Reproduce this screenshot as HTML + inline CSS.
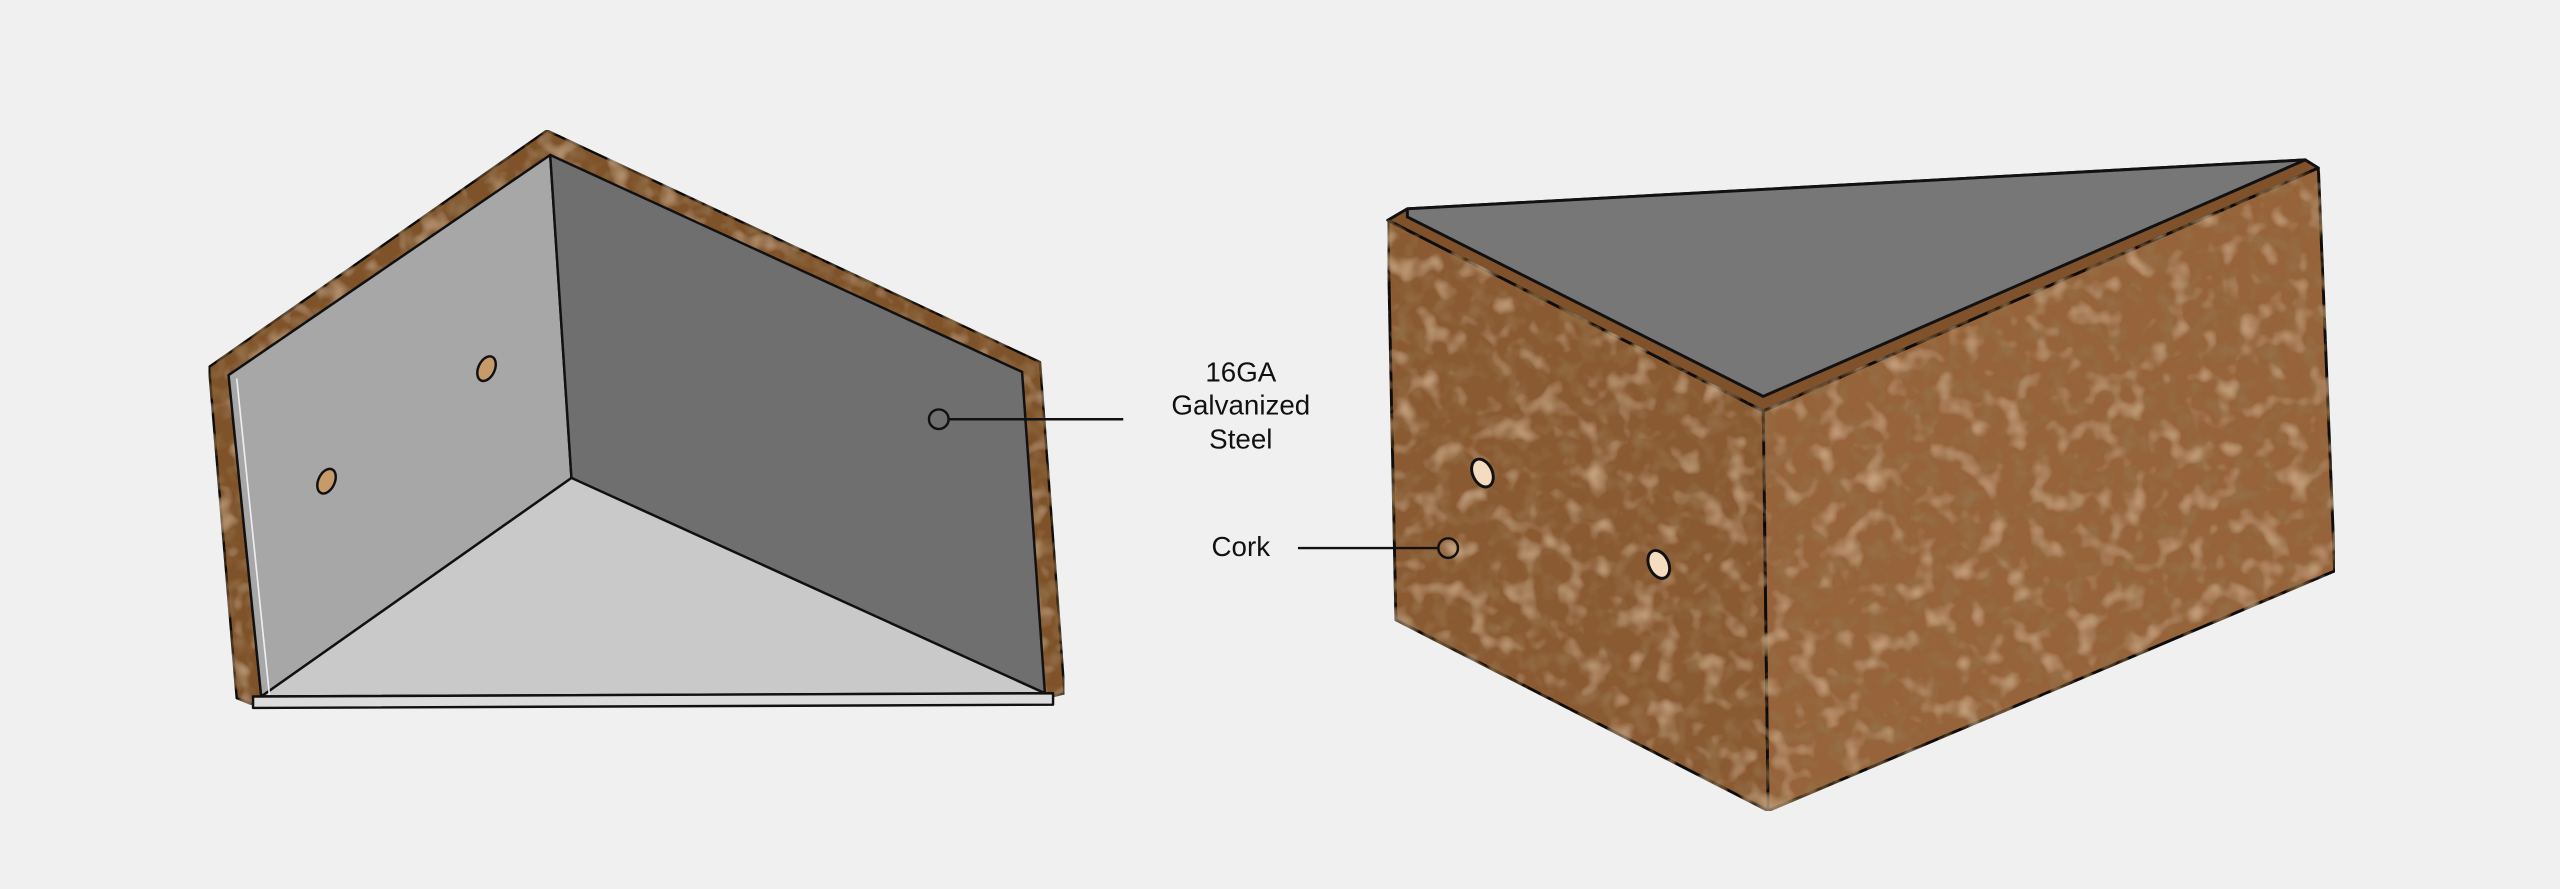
<!DOCTYPE html>
<html><head><meta charset="utf-8"><style>
html,body{margin:0;padding:0;background:#f0f0f0;}
svg{display:block}
</style></head><body>
<svg width="2560" height="889" viewBox="0 0 1568 545" preserveAspectRatio="none" xmlns="http://www.w3.org/2000/svg">
<defs>
<filter id="cork" x="0" y="0" width="100%" height="100%">
<feTurbulence type="fractalNoise" baseFrequency="0.09" numOctaves="2" seed="3" result="n"/>
<feColorMatrix in="n" type="matrix" values="0 0 0 0 0.3  0 0 0 0 0.17  0 0 0 0 0.07  0 0 0 2 -0.9" result="d"/>
<feComposite in="d" in2="SourceGraphic" operator="in" result="dd"/>
<feTurbulence type="fractalNoise" baseFrequency="0.07" numOctaves="2" seed="9" result="n2"/>
<feColorMatrix in="n2" type="matrix" values="0 0 0 0 0.76  0 0 0 0 0.53  0 0 0 0 0.32  0 0 0 1.6 -0.85" result="l"/>
<feComposite in="l" in2="SourceGraphic" operator="in" result="ll"/>
<feMerge><feMergeNode in="SourceGraphic"/><feMergeNode in="dd"/><feMergeNode in="ll"/></feMerge>
</filter>
</defs>
<rect width="1568" height="545" fill="#f0f0f0"/>
<!-- Left object -->
<g stroke="#111" stroke-width="1.5" stroke-linejoin="round">
<polygon points="128,225 335,80 637,222 652,425 640,428 626,228 337,95 140,230 160,427 155,432 145,428" fill="#7f522b" filter="url(#cork)"/>
<polygon points="140,230 337,95 350,293 160,427" fill="#a7a7a7"/>
<polygon points="337,95 626,228 640,425 350,293" fill="#6f6f6f"/>
<polygon points="350,293 160,427 640,425" fill="#c9c9c9"/>
<polygon points="155,427 645,425 645,432 155,434" fill="#dcdcdc"/>
<line x1="145" y1="232" x2="165" y2="426" stroke="#eee" stroke-width="1"/>
<ellipse cx="298" cy="226" rx="5" ry="8" fill="#c79a6a" transform="rotate(25 298 226)"/>
<ellipse cx="200" cy="295" rx="5" ry="8" fill="#c79a6a" transform="rotate(25 200 295)"/>
</g>
<!-- Right object -->
<g stroke="#111" stroke-width="1.8" stroke-linejoin="round">
<polygon points="850,135 862,128 1412,98 1420,103 1080,252" fill="#7f522b"/>
<polygon points="862,128 1412,98 1080,243 862,133" fill="#777"/>
<polygon points="850,135 1080,252 1083,497 855,380" fill="#8a5a32" filter="url(#cork)"/>
<polygon points="1080,252 1420,103 1430,350 1083,497" fill="#96643a" filter="url(#cork)"/>
<ellipse cx="908" cy="290" rx="6" ry="9" fill="#f3dcc0" transform="rotate(-25 908 290)"/>
<ellipse cx="1016" cy="346" rx="6" ry="9" fill="#f3dcc0" transform="rotate(-25 1016 346)"/>
</g>
<!-- Labels -->
<g font-family="Liberation Sans, sans-serif" font-size="17" fill="#111" text-anchor="middle">
<text x="760" y="234">16GA</text>
<text x="760" y="254">Galvanized</text>
<text x="760" y="275">Steel</text>
<text x="760" y="341">Cork</text>
</g>
<line x1="581" y1="257" x2="688" y2="257" stroke="#111" stroke-width="1.5"/>
<circle cx="575" cy="257" r="6" fill="none" stroke="#111" stroke-width="1.5"/>
<line x1="795" y1="336" x2="881" y2="336" stroke="#111" stroke-width="1.5"/>
<circle cx="887" cy="336" r="6" fill="none" stroke="#111" stroke-width="1.5"/>
</svg>
</body></html>
